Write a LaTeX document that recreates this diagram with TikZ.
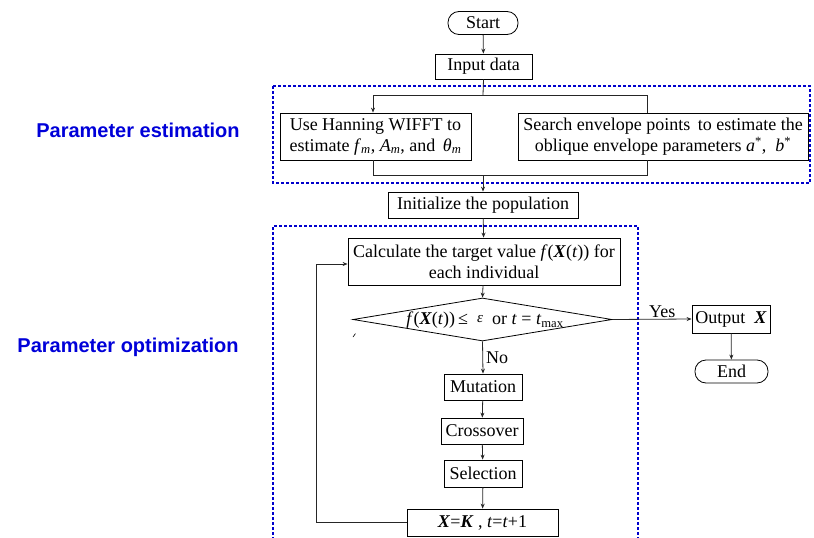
\documentclass[tikz,border=0pt]{standalone}
\usepackage{fontspec}
\setmainfont{Liberation Serif}
\newfontfamily\labfont{Liberation Sans}
\usetikzlibrary{arrows.meta,shapes.geometric}
\begin{document}
\begin{tikzpicture}[x=1pt,y=-1pt,
  box/.style={draw,line width=0.8pt,inner sep=0pt,align=center,font=\fontsize{18}{21}\selectfont},
  term/.style={box,rounded corners=11pt},
  conn/.style={line width=0.8pt,draw=black!85},
  arr/.style={conn,-{Stealth[length=5pt,width=4pt]}},
  zone/.style={draw=blue!80!black,line width=1.6pt,dash pattern=on 3pt off 2pt},
  zonelabel/.style={text=blue!85!black,font=\labfont\bfseries\fontsize{20}{23}\selectfont},
  lbl/.style={font=\fontsize{18}{20}\selectfont,inner sep=0pt}]
\useasboundingbox (0,0) rectangle (814,538);

% zones
\draw[zone] (273,86) rectangle (810,183);
\draw[zone] (273,540) -- (273,226) -- (638,226) -- (638,540);
\node[zonelabel] (pe) at (138,130) {Parameter estimation};
\node[zonelabel] (po) at (128,347) {Parameter optimization};

% nodes
\node[term,minimum width=70pt,minimum height=23pt] (start) at (483,23) {Start};
\node[box,minimum width=97pt,minimum height=25pt] (input) at (483.5,66.5) {Input data};
\node[box,minimum width=191pt,minimum height=47pt] (hann) at (375.5,136.5)
  {Use Hanning WIFFT to\\ estimate \textit{f}\textsubscript{\textit{m}}, \textit{A}\textsubscript{\textit{m}}, and \,\textit{θ}\textsubscript{\textit{m}}};
\node[box,minimum width=290pt,minimum height=47pt] (search) at (663,136.5)
  {Search envelope points\, to estimate the\\ oblique envelope parameters \textit{a}\textsuperscript{*},\ \ \textit{b}\textsuperscript{*}};
\node[box,minimum width=190pt,minimum height=26pt] (init) at (483,205) {Initialize the population};
\node[box,minimum width=272pt,minimum height=47pt] (calc) at (484,261.5)
  {Calculate the target value \textit{f}(\textbf{\textit{X}}(\textit{t})) for\\ each individual};
\node[draw,line width=0.8pt,diamond,inner sep=0pt,minimum width=259pt,minimum height=43pt] (dec) at (482.5,319.5) {};
\node[lbl] (dectxt) at (485,320) {\textit{f}(\textbf{\textit{X}}(\textit{t}))\,≤\ \ \raisebox{2pt}{\fontsize{15}{15}\selectfont\textit{ε}}\ \ or \textit{t} = \textit{t}\textsubscript{max}};
\node[box,minimum width=78pt,minimum height=28pt] (out) at (731,319) {Output \ \textbf{\textit{X}}};
\node[term,minimum width=73pt,minimum height=23pt] (end) at (731.5,371.5) {End};
\node[box,minimum width=78pt,minimum height=26pt] (mut) at (483,387) {Mutation};
\node[box,minimum width=82pt,minimum height=26pt] (cross) at (482,431) {Crossover};
\node[box,minimum width=78pt,minimum height=27pt] (sel) at (483,473.5) {Selection};
\node[box,minimum width=151pt,minimum height=27pt] (xk) at (482.5,522.5)
  {\textbf{\textit{X}}=\textbf{\textit{K}} , \textit{t}=\textit{t}+1};

% connectors
\coordinate (split) at (483,95);
\coordinate (sl) at (373,95);
\coordinate (sr) at (647,95);
\coordinate (join) at (483,175);
\draw[arr] (start) -- (input);
\draw[conn] (input.south) -- (split);
\draw[arr] (sr) -- (sl) -- (sl |- hann.north);
\draw[conn] (sr) -- (sr |- search.north);
\draw[conn] (sl |- hann.south) -- (sl |- join) -- (sr |- join) -- (sr |- search.south);
\draw[arr] (join) -- (init.north);
\draw[arr] (init) -- (calc);
\draw[arr] (calc) -- (dec.north);
\draw[arr] (dec.east) -- node[lbl,above,pos=0.63,yshift=1pt] (yes) {Yes} (out.west);
\draw[arr] (out) -- (end);
\draw[arr] (dec.south) -- node[lbl,right,pos=0.5,xshift=3pt] (no) {No} (mut.north);
\draw[arr] (mut) -- (cross);
\draw[arr] (cross) -- (sel);
\draw[arr] (sel) -- (xk);
\coordinate (fbtop) at (316,264);
\draw[arr] (xk.west) -| (fbtop) -- (fbtop -| calc.west);

% stray tick
\draw[line width=0.6pt] (353,337) -- (355.5,333.5);
\end{tikzpicture}
\end{document}
